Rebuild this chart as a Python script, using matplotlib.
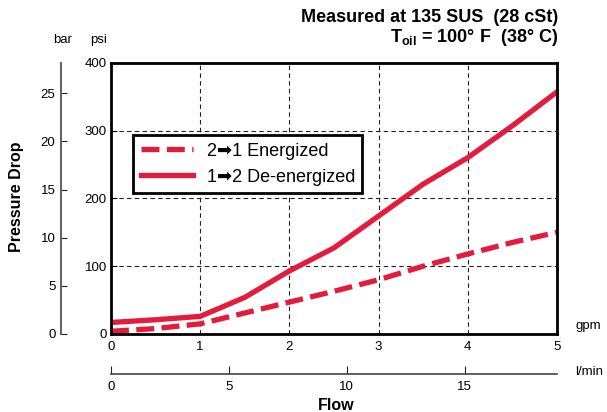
import matplotlib
matplotlib.use('Agg')
import matplotlib.pyplot as plt

plt.rcParams['font.family'] = ['Liberation Sans', 'DejaVu Sans']
plt.rcParams['mathtext.fontset'] = 'custom'
plt.rcParams['mathtext.rm'] = 'Liberation Sans'
plt.rcParams['mathtext.bf'] = 'Liberation Sans:bold'

# data (flow in gpm, pressure drop in psi)
flow_gpm = [0, 0.5, 1, 1.5, 2, 2.5, 3, 3.5, 4, 4.5, 5]
energized = [4, 8, 15, 31, 47, 63, 80, 100, 118, 135, 150]
de_energized = [17, 21, 26, 54, 93, 127, 174, 221, 260, 307, 357]
labels = ['2\u27a11 Energized', '1\u27a12 De-energized']

gpm_ticks = [0, 1, 2, 3, 4, 5]
psi_ticks = [0, 100, 200, 300, 400]
bar_ticks = [0, 5, 10, 15, 20, 25]
lpm_ticks = [0, 5, 10, 15]
LPM_PER_GPM = 3.785
PSI_PER_BAR = 14.2  # scale as drawn on the chart

red = '#e31b3c'
W, H = 607, 412

fig = plt.figure(figsize=(W / 100, H / 100), dpi=100)
ax = fig.add_axes([111 / W, (H - 334) / H, 446 / W, 271.3 / H])

ax.plot(flow_gpm, energized, color=red, lw=3.8, dashes=(3.4, 1.4),
        solid_capstyle='butt', label=labels[0])
ax.plot(flow_gpm, de_energized, color=red, lw=3.8, label=labels[1])

ax.set_xlim(0, 5)
ax.set_ylim(0, 400)
ax.set_xticks(gpm_ticks)
ax.set_yticks(psi_ticks)
ax.tick_params(axis='x', length=0, pad=5, labelsize=9.5)
ax.tick_params(axis='y', direction='in', length=4, pad=3, labelsize=9.5)
ax.grid(True, color='#222222', lw=0.8, dashes=(4, 3))
for s in ax.spines.values():
    s.set_linewidth(2)

leg = ax.legend(loc='upper left', bbox_to_anchor=(0.03, 0.765), fontsize=13,
                handlelength=2.9, handletextpad=0.75, borderpad=0.4,
                labelspacing=0.5, fancybox=False, framealpha=1)
leg.get_frame().set_edgecolor('black')
leg.get_frame().set_linewidth(2)

# bar axis on the left
sec_y = ax.secondary_yaxis(-50 / 446, functions=(lambda p: p / PSI_PER_BAR,
                                                  lambda b: b * PSI_PER_BAR))
sec_y.set_yticks(bar_ticks)
sec_y.tick_params(direction='in', length=4, pad=4, labelsize=9.5, color='#222222')
sec_y.spines['left'].set_color('#666666')
sec_y.spines['left'].set_linewidth(1.5)

# l/min axis below
sec_x = ax.secondary_xaxis(-40 / 271.3, functions=(lambda g: g * LPM_PER_GPM,
                                                    lambda l: l / LPM_PER_GPM))
sec_x.set_xticks(lpm_ticks)
sec_x.tick_params(direction='in', length=6, pad=5, labelsize=9.5, color='#222222')
sec_x.spines['bottom'].set_color('#444444')
sec_x.spines['bottom'].set_linewidth(1.2)

fig.text(63 / W, 1 - 40 / H, 'bar', ha='center', va='center', fontsize=9.5)
fig.text(99 / W, 1 - 40 / H, 'psi', ha='center', va='center', fontsize=9.5)
fig.text(575 / W, 1 - 326 / H, 'gpm', ha='left', va='center', fontsize=9.5)
fig.text(575 / W, 1 - 372 / H, 'l/min', ha='left', va='center', fontsize=9.5)
fig.text(17 / W, 1 - 197 / H, 'Pressure Drop', rotation=90, ha='center',
         va='center', fontsize=11.5, fontweight='bold')
fig.text(336 / W, 1 - 405 / H, 'Flow', ha='center', va='center',
         fontsize=11.5, fontweight='bold')

fig.text(558 / W, 1 - 17 / H, 'Measured at 135 SUS  (28 cSt)', ha='right',
         va='center', fontsize=13, fontweight='bold')
fig.text(558 / W, 1 - 38 / H, r'$\mathbf{T}_{\mathbf{oil}}$' + ' = 100\u00b0 F  (38\u00b0 C)',
         ha='right', va='center', fontsize=13, fontweight='bold')

fig.savefig('out.png', dpi=100)
